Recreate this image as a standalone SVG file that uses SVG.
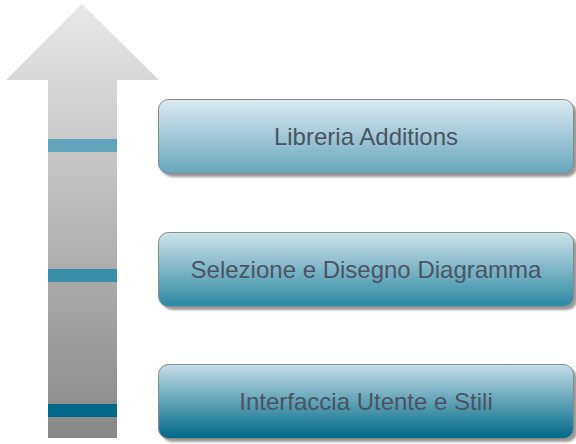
<svg xmlns="http://www.w3.org/2000/svg" width="576" height="444" viewBox="0 0 576 444">
<defs>
<linearGradient id="ga" x1="0" y1="4" x2="0" y2="438" gradientUnits="userSpaceOnUse">
<stop offset="0" stop-color="#e8e8e8"/><stop offset="1" stop-color="#878787"/>
</linearGradient>
<linearGradient id="g1" x1="0" y1="0" x2="0" y2="1"><stop offset="0" stop-color="#dceaf0"/><stop offset="1" stop-color="#66a6bc"/></linearGradient>
<linearGradient id="g2" x1="0" y1="0" x2="0" y2="1"><stop offset="0" stop-color="#cfe3ea"/><stop offset="1" stop-color="#2b88a3"/></linearGradient>
<linearGradient id="g3" x1="0" y1="0" x2="0" y2="1"><stop offset="0" stop-color="#c3dee7"/><stop offset="1" stop-color="#006888"/></linearGradient>
<filter id="sh" x="-5%" y="-10%" width="115%" height="130%"><feGaussianBlur stdDeviation="1.2"/></filter>
</defs>
<style>
.box{stroke:#8a8a8a;stroke-width:1}
.shadow{fill:#9a9a9a;filter:url(#sh)}
.lbl{font-family:"Liberation Sans",Arial,sans-serif;font-size:24px;fill:#4a5561;text-anchor:middle}
</style>
<g id="arrow">
<path d="M82 4 L159 80 L117 80 L117 438 L48 438 L48 80 L6 80 Z" fill="url(#ga)"/>
<rect x="48" y="139" width="69" height="13" fill="#62a4bb"/>
<rect x="48" y="269" width="69" height="13" fill="#3a8fa7"/>
<rect x="48" y="404" width="69" height="13" fill="#00698a"/>
</g>
<g id="connectors"/>
<g id="node1">
<rect class="shadow" x="162" y="103" width="415" height="74" rx="10"/>
<rect class="box" x="158.5" y="99.5" width="415" height="74" rx="10" fill="url(#g1)"/>
<text class="lbl" x="366" y="145">Libreria Additions</text>
</g>
<g id="node2">
<rect class="shadow" x="162" y="236" width="415" height="74" rx="10"/>
<rect class="box" x="158.5" y="232.5" width="415" height="74" rx="10" fill="url(#g2)"/>
<text class="lbl" x="366" y="278">Selezione e Disegno Diagramma</text>
</g>
<g id="node3">
<rect class="shadow" x="162" y="368" width="415" height="74" rx="10"/>
<rect class="box" x="158.5" y="364.5" width="415" height="74" rx="10" fill="url(#g3)"/>
<text class="lbl" x="366" y="410">Interfaccia Utente e Stili</text>
</g>
</svg>
